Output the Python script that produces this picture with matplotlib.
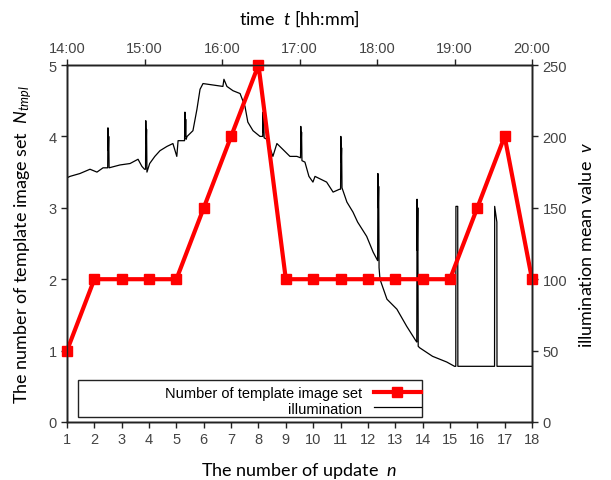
import matplotlib
matplotlib.use("Agg")
import matplotlib.pyplot as plt
from matplotlib.patches import Rectangle
from matplotlib.lines import Line2D

# ---- data ----
update_n = list(range(1, 19))
n_templates = [1, 2, 2, 2, 2, 3, 4, 5, 2, 2, 2, 2, 2, 2, 2, 3, 4, 2]

# illumination: minutes after 14:00, mean value v
illum_min = [0, 2.3, 10, 17.8, 23.2, 27.9, 31,
             31.5, 31.7, 32.0, 32.3, 32.6,
             41, 48.8, 55, 58, 60,
             60.8, 61, 61.3, 61.6, 61.9,
             64, 68, 72, 77.4, 82, 85, 86,
             91, 91.3, 91.6, 91.9, 92.2,
             93, 97.5, 100.6, 103, 105.3, 113, 120.7, 121.5, 123.8, 128.5, 134, 137.8, 140, 144, 149.4,
             151.5, 151.7, 152, 152.3, 152.6,
             154.8, 159.4, 162.5, 167, 172.6, 178,
             180.8, 181, 181.3, 181.6, 181.9,
             184.2, 187.3, 190.4, 192, 201, 206, 211,
             211.8, 212, 212.3, 212.6, 212.9,
             216.7, 221.4, 225, 232, 237,
             240.5, 240.7, 241.0, 241.3, 241.6,
             242.3, 247.7, 255.4, 263, 270,
             270.8, 271, 271.3, 271.6, 271.9,
             273, 283, 294, 300,
             301, 301.1, 302.5, 302.6,
             331, 331.1, 332.8, 332.9,
             360]
illum_val = [171, 172, 174, 177, 175, 178, 178,
             178, 206, 190, 200, 178,
             180, 181, 184, 179, 177,
             177, 211, 195, 205, 175,
             181, 186, 190, 193, 195, 186, 197,
             197, 217, 200, 212, 198,
             200, 204, 219, 233, 237, 236, 235, 240, 235, 232, 230, 221, 210, 204, 200,
             200, 217, 203, 212, 199,
             198, 186, 195, 191, 186, 186,
             185, 207, 195, 203, 183,
             182, 172, 168, 172, 168, 161, 163,
             163, 200, 182, 192, 164,
             154, 147, 140, 130, 119,
             113, 174, 150, 165, 108,
             100, 86, 79, 67, 57,
             56, 156, 120, 150, 53,
             52, 46, 42, 39,
             39, 151, 151, 39,
             39, 151, 140, 39,
             39]

time_ticks = [14, 15, 16, 17, 18, 19, 20]
time_labels = ["14:00", "15:00", "16:00", "17:00", "18:00", "19:00", "20:00"]
n_yticks = [0, 1, 2, 3, 4, 5]
v_yticks = [0, 50, 100, 150, 200, 250]

# ---- style ----
plt.rcParams['font.family'] = ['Liberation Sans', 'DejaVu Sans']
plt.rcParams['mathtext.fontset'] = 'custom'
plt.rcParams['mathtext.it'] = 'Lato:italic'
plt.rcParams['mathtext.rm'] = 'Lato'
label_font = dict(family=['Lato', 'DejaVu Sans'], size=13)
tick_color = '#444444'
spine_color = '#222222'

fig = plt.figure(figsize=(6.11, 4.81), dpi=100)
ax = fig.add_axes([67/611, 1-423/481, (532-67)/611, (423-66)/481])
axr = ax.twinx()
axt = axr.twiny()

ax.set_zorder(3)
ax.patch.set_visible(False)

# illumination
illum_hours = [14 + m/60 for m in illum_min]
axt.plot(illum_hours, illum_val, color='black', lw=0.9)
axt.set_xlim(14, 20)
axr.set_ylim(0, 250)

# number of template image set
ax.plot(update_n, n_templates, color='#ff0000', lw=3, marker='s', markersize=7,
        clip_on=False)
ax.set_xlim(1, 18)
ax.set_ylim(0, 5)

ax.set_xticks(update_n)
ax.set_yticks(n_yticks)
axr.set_yticks(v_yticks)
axt.set_xticks(time_ticks)
axt.set_xticklabels(time_labels)

for a in (ax, axr, axt):
    for s in a.spines.values():
        s.set_color(spine_color)
        s.set_linewidth(1)
    a.tick_params(direction='out', length=4, width=1, colors=spine_color,
                  labelcolor=tick_color, labelsize=10.5)

ax.set_xlabel("The number of update  $n$", labelpad=10, **label_font)
ax.set_ylabel("The number of template image set  $N_{tmpl}$", labelpad=10, **label_font)
axr.set_ylabel("illumination mean value  $v$", labelpad=8, **label_font)
axt.set_xlabel("time  $t$ [hh:mm]", labelpad=12, **label_font)

# legend
ax.add_patch(Rectangle(((78-67)/465, (423-418)/357), (422-78)/465, (418-381)/357,
                       transform=ax.transAxes, fill=False, edgecolor=spine_color,
                       lw=1, zorder=5))
h1 = Line2D([], [], color='#ff0000', lw=3, marker='s', markersize=7)
h2 = Line2D([], [], color='black', lw=0.9)
leg = ax.legend([h1, h2], ["Number of template image set", "illumination"],
                loc='lower right', bbox_to_anchor=((422-67)/465, (423-418)/357),
                frameon=False, markerfirst=False, fontsize=10.5,
                handlelength=3.2, borderpad=0.1, labelspacing=0.12,
                handletextpad=0.8, borderaxespad=0)

fig.savefig("out.png", dpi=100)
